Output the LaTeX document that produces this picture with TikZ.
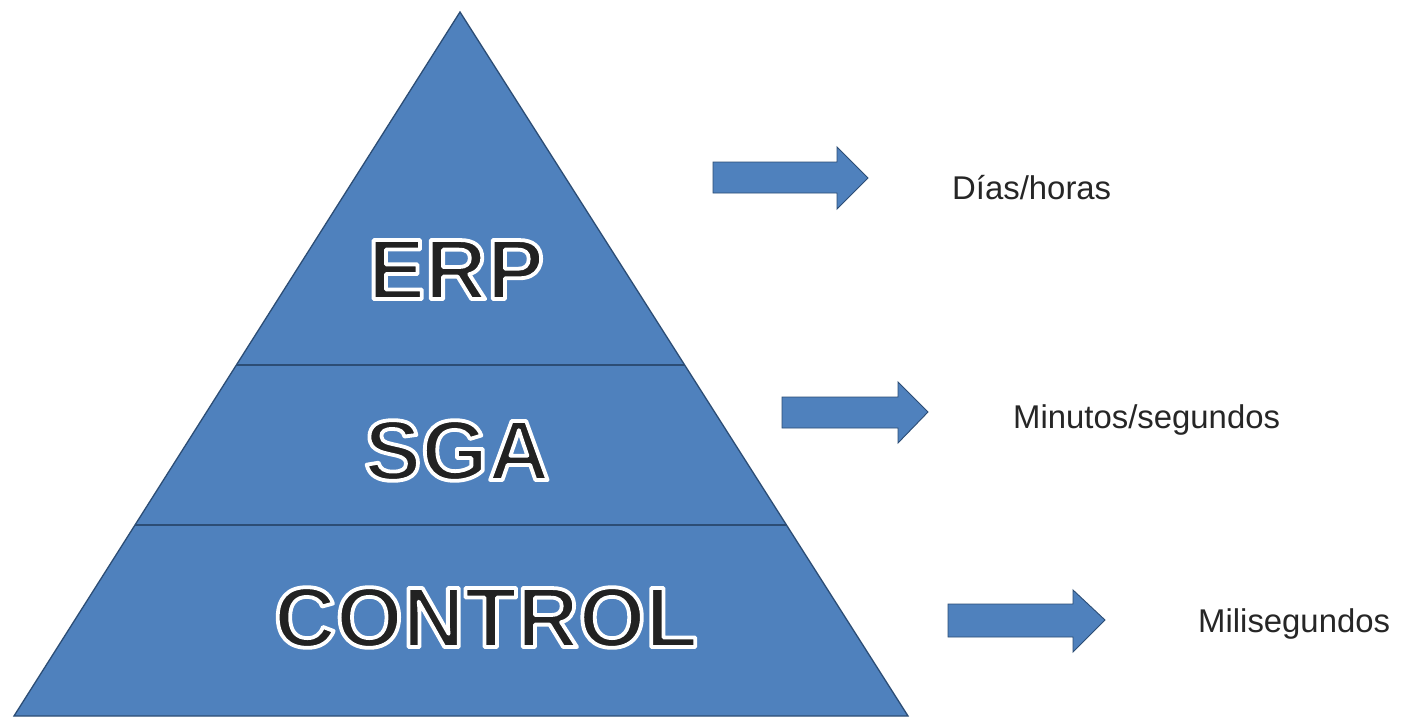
\documentclass[tikz,border=0pt]{standalone}
\usepackage{fontspec}
\setmainfont{Liberation Sans}
\definecolor{tri}{HTML}{4F81BD}
\definecolor{edge}{HTML}{2C4D75}
\definecolor{txt}{HTML}{222222}
\tikzset{
  layer/.style={font=\bfseries\fontsize{86}{86}\selectfont, text=txt, inner sep=0pt, anchor=base},
  side/.style={font=\fontsize{33}{33}\selectfont, text=black!85, inner sep=0pt, anchor=base west},
  blockarrow/.style={fill=tri, draw=edge, line width=0.9bp, line join=miter}
}
\newcommand{\outlined}[1]{\special{pdf:literal direct 2 Tr 3.8 w 1 j 1 1 1 RG}#1\special{pdf:literal direct 0 Tr}}
\begin{document}
\begin{tikzpicture}[x=1bp,y=-1bp]
\useasboundingbox (0,0) rectangle (1408,718);
\fill[white] (0,0) rectangle (1408,718);
% pyramid
\draw[fill=tri, draw=edge, line width=1.3bp, line join=miter] (460,12) -- (908,716) -- (14,716) -- cycle;
\coordinate (l1) at (236.4,365); \coordinate (r1) at (684.6,365);
\coordinate (l2) at (135,525);   \coordinate (r2) at (786.5,525);
\draw[edge, line width=1.6bp] (l1) -- (r1);
\draw[edge, line width=1.6bp] (l2) -- (r2);
% layer labels
\node[layer] (erp) at (456,299) {\outlined{ERP}};
\node[layer] (sga) at (457,480) {\outlined{SGA}};
\node[layer] (ctl) at (486,647) {\outlined{CONTROL}};
% arrows
\draw[blockarrow] (713,162) -- (837,162) -- (837,147) -- (868,178) -- (837,209) -- (837,193) -- (713,193) -- cycle;
\draw[blockarrow] (782,397) -- (898,397) -- (898,382) -- (928,412) -- (898,443) -- (898,428) -- (782,428) -- cycle;
\draw[blockarrow] (948,604) -- (1073,604) -- (1073,590) -- (1105,620) -- (1073,652) -- (1073,637) -- (948,637) -- cycle;
% side labels
\node[side] (t1) at (952,199) {Días/horas};
\node[side] (t2) at (1013,428) {Minutos/segundos};
\node[side] (t3) at (1198,632) {Milisegundos};
\end{tikzpicture}
\end{document}
